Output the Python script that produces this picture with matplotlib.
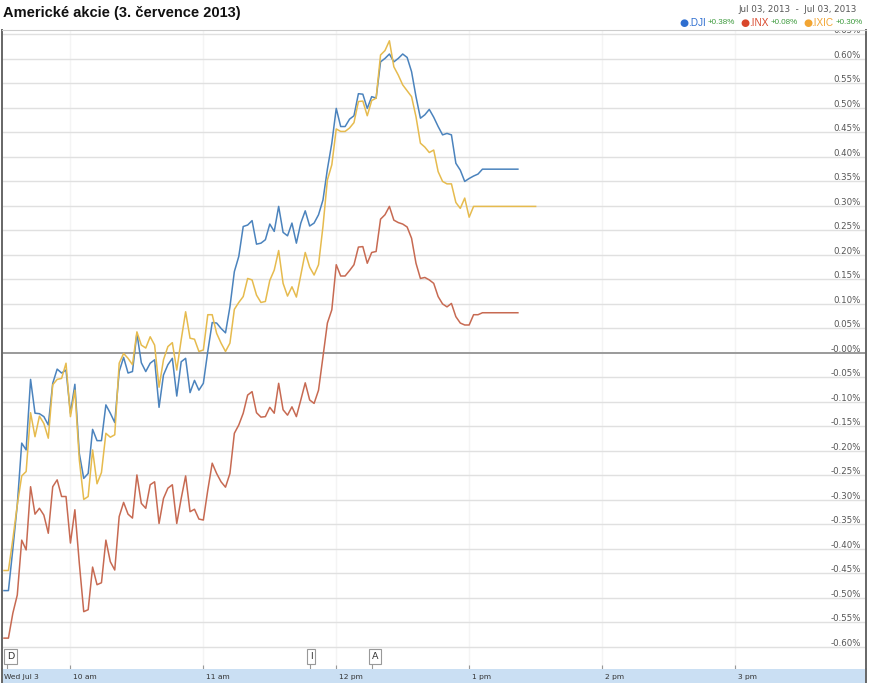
import matplotlib
matplotlib.use("Agg")
import matplotlib.pyplot as plt
import matplotlib.transforms as mtransforms
import numpy as np

title = "Americké akcie (3. července 2013)"
date_range = "Jul 03, 2013  -  Jul 03, 2013"

# % change vs previous close, one quote every 2 minutes from 9:30
dji = [-0.485, -0.485, -0.40, -0.31, -0.184, -0.198, -0.054, -0.123, -0.124, -0.130,
       -0.147, -0.062, -0.033, -0.041, -0.035, -0.123, -0.064, -0.205, -0.256, -0.246,
       -0.156, -0.179, -0.179, -0.106, -0.123, -0.142, -0.038, -0.009, -0.041, -0.038,
       0.040, -0.020, -0.038, -0.021, -0.014, -0.111, -0.045, -0.024, -0.011, -0.088,
       -0.018, -0.011, -0.081, -0.056, -0.076, -0.062, 0.003, 0.062, 0.061, 0.050,
       0.041, 0.094, 0.166, 0.197, 0.258, 0.261, 0.270, 0.222, 0.224, 0.231,
       0.263, 0.248, 0.299, 0.246, 0.239, 0.265, 0.224, 0.265, 0.290, 0.259,
       0.265, 0.282, 0.312, 0.375, 0.428, 0.499, 0.462, 0.462, 0.477, 0.484,
       0.529, 0.528, 0.499, 0.523, 0.520, 0.594, 0.601, 0.610, 0.594, 0.601,
       0.610, 0.603, 0.574, 0.523, 0.479, 0.486, 0.497, 0.481, 0.462, 0.445,
       0.448, 0.445, 0.387, 0.373, 0.350, 0.356, 0.361, 0.365, 0.375,
       0.375, 0.375, 0.375, 0.375, 0.375, 0.375, 0.375, 0.375]

inx = [-0.582, -0.582, -0.531, -0.494, -0.382, -0.402, -0.273, -0.329, -0.317, -0.331,
       -0.368, -0.273, -0.259, -0.293, -0.293, -0.388, -0.320, -0.429, -0.528, -0.524,
       -0.437, -0.473, -0.469, -0.382, -0.426, -0.443, -0.334, -0.305, -0.329, -0.337,
       -0.249, -0.307, -0.317, -0.269, -0.263, -0.348, -0.297, -0.276, -0.269, -0.348,
       -0.297, -0.251, -0.324, -0.319, -0.339, -0.341, -0.280, -0.225, -0.246, -0.263,
       -0.274, -0.246, -0.164, -0.147, -0.123, -0.086, -0.079, -0.122, -0.131, -0.130,
       -0.111, -0.123, -0.062, -0.116, -0.127, -0.110, -0.130, -0.096, -0.061, -0.096,
       -0.103, -0.076, -0.008, 0.061, 0.088, 0.180, 0.157, 0.157, 0.168, 0.180,
       0.216, 0.217, 0.183, 0.205, 0.207, 0.273, 0.282, 0.299, 0.271, 0.266,
       0.263, 0.257, 0.234, 0.183, 0.152, 0.154, 0.149, 0.142, 0.115, 0.100,
       0.094, 0.101, 0.074, 0.061, 0.057, 0.057, 0.078, 0.078, 0.082,
       0.082, 0.082, 0.082, 0.082, 0.082, 0.082, 0.082, 0.082]

ixic = [-0.444, -0.444, -0.38, -0.31, -0.251, -0.242, -0.122, -0.171, -0.129, -0.144,
        -0.174, -0.065, -0.054, -0.052, -0.021, -0.130, -0.076, -0.218, -0.299, -0.293,
        -0.198, -0.267, -0.244, -0.164, -0.172, -0.167, -0.021, -0.001, -0.011, -0.024,
        0.043, 0.016, 0.010, 0.033, 0.016, -0.070, -0.014, 0.013, 0.021, -0.035,
        0.027, 0.084, 0.030, 0.028, 0.003, 0.006, 0.078, 0.078, 0.040, 0.020,
        0.003, 0.020, 0.089, 0.103, 0.115, 0.152, 0.149, 0.118, 0.103, 0.105,
        0.148, 0.169, 0.209, 0.142, 0.116, 0.135, 0.114, 0.159, 0.205, 0.175,
        0.159, 0.180, 0.258, 0.353, 0.384, 0.457, 0.452, 0.452, 0.459, 0.470,
        0.513, 0.514, 0.484, 0.515, 0.520, 0.608, 0.617, 0.637, 0.584, 0.567,
        0.547, 0.535, 0.523, 0.482, 0.428, 0.420, 0.409, 0.414, 0.370, 0.350,
        0.345, 0.345, 0.307, 0.295, 0.316, 0.277, 0.299, 0.299, 0.299,
        0.299, 0.299, 0.299, 0.299, 0.299, 0.299, 0.299, 0.299, 0.299, 0.299, 0.299, 0.299]

tickers = [".DJI", ".INX", ".IXIC"]
changes = ["+0.38%", "+0.08%", "+0.30%"]
line_colors = ["#4b83bd", "#c76a52", "#e6bb4e"]
dot_colors = ["#2f6fd0", "#d9472b", "#f2a533"]

hours = [10, 11, 12, 13, 14, 15]
hour_labels = ["10 am", "11 am", "12 pm", "1 pm", "2 pm", "3 pm"]
day_label = "Wed Jul 3"

flag_labels = ["D", "I", "A"]
flag_times = [9.52, 11.80, 12.27]

W, H = 869, 683
fig = plt.figure(figsize=(W / 100, H / 100), dpi=100)

ax = fig.add_axes([2 / W, 14 / H, 864 / W, 639 / H])
ax.set_xlim(9.485, 15.986)
ax.set_ylim(-0.645, 0.659)

levels = np.round(np.arange(-0.60, 0.651, 0.05), 2)
lab_tr = mtransforms.blended_transform_factory(ax.transAxes, ax.transData)
for lv in levels:
    if lv == 0:
        ax.axhline(lv, color="#9a9a9a", lw=1.4, zorder=1)
        txt = "-0.00%"
    else:
        ax.axhline(lv, color="#e0e0e0", lw=1.0, zorder=1)
        txt = ("-" if lv < 0 else "") + f"{abs(lv):.2f}%"
    ax.text(1 - 5 / 864, lv - 0.002, txt, transform=lab_tr, ha="right", va="bottom",
            fontsize=6.2, color="#555555", clip_on=True, zorder=2)

for h in hours:
    ax.axvline(h, color="#f4f4f4", lw=1.0, zorder=0)

for i, series in enumerate([dji, inx, ixic]):
    t = 9.5 + np.arange(len(series)) * 2 / 60
    ax.plot(t, series, color=line_colors[i], lw=1.1, zorder=3)

for lab, ft in zip(flag_labels, flag_times):
    ax.plot([ft, ft], [-0.645, -0.625], color="#999999", lw=0.8, zorder=3)
    ax.text(ft, -0.619, lab, ha="left", va="center", fontsize=6.8, color="#333333",
            bbox=dict(boxstyle="square,pad=0.3", fc="white", ec="#999999", lw=0.8), zorder=4)

ax.set_xticks(hours)
ax.set_yticks([])
ax.tick_params(axis="x", direction="in", length=3, color="#999999", labelbottom=False)
for side in ["left", "right"]:
    ax.spines[side].set_color("#666666")
    ax.spines[side].set_linewidth(1.4)
ax.spines["top"].set_color("#cccccc")
ax.spines["bottom"].set_visible(False)

band = fig.add_axes([2 / W, 0, 864 / W, 14 / H], facecolor="#cadff3")
band.set_xlim(ax.get_xlim())
band.set_ylim(0, 1)
band.set_xticks([])
band.set_yticks([])
for side in ["top", "bottom"]:
    band.spines[side].set_visible(False)
for side in ["left", "right"]:
    band.spines[side].set_color("#666666")
    band.spines[side].set_linewidth(1.4)
band.text(9.5, 0.45, day_label, ha="left", va="center", fontsize=5.4, color="#333333")
for h, lab in zip(hours, hour_labels):
    band.text(h + 0.02, 0.45, lab, ha="left", va="center", fontsize=5.4, color="#333333")

fig.text(3 / W, 1 - 13 / H, title, ha="left", va="center", fontsize=10.5,
         fontweight="bold", family="Liberation Sans", color="#111111")
fig.text(857 / W, 1 - 10 / H, date_range, ha="right", va="center", fontsize=6.3,
         color="#555555")

# legend row, laid out right to left from the right edge
renderer = fig.canvas.get_renderer()
x = 863
yrow = 1 - 23 / H
for i in [2, 1, 0]:
    t1 = fig.text(x / W, yrow, changes[i], ha="right", va="center",
                  fontsize=5.8, family="Liberation Sans", color="#3c9a3c")
    x -= t1.get_window_extent(renderer).width + 2
    t2 = fig.text(x / W, yrow, tickers[i], ha="right", va="center",
                  fontsize=7.2, family="Liberation Sans", color=dot_colors[i])
    x -= t2.get_window_extent(renderer).width + 4
    fig.text(x / W, yrow, "\u25cf", ha="center", va="center",
             fontsize=7.5, color=dot_colors[i])
    x -= 10

fig.savefig("out.png", dpi=100)
